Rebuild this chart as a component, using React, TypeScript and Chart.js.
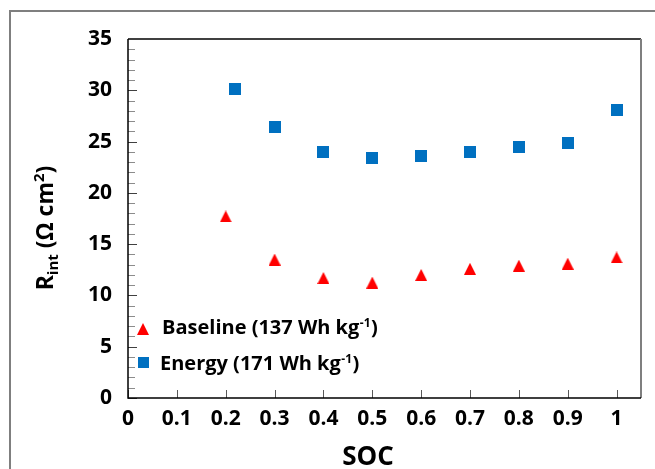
import React, { useEffect, useRef } from "react";
import { Chart, registerables } from "chart.js";

Chart.register(...registerables);

// ---- data ----
const baselineSOC = [0.2, 0.3, 0.4, 0.5, 0.6, 0.7, 0.8, 0.9, 1.0];
const baselineR = [17.7, 13.5, 11.7, 11.25, 12.0, 12.6, 12.9, 13.1, 13.7];
const energySOC = [0.22, 0.3, 0.4, 0.5, 0.6, 0.7, 0.8, 0.9, 1.0];
const energyR = [30.1, 26.4, 24.0, 23.4, 23.6, 24.0, 24.5, 24.9, 28.1];
const xTickValues = [0, 0.1, 0.2, 0.3, 0.4, 0.5, 0.6, 0.7, 0.8, 0.9, 1];
const yTickValues = [0, 5, 10, 15, 20, 25, 30, 35];
const seriesNames = ["Baseline (137 Wh kg", "Energy (171 Wh kg"];
const seriesSup = ["-1", "-1"];
const xTitle = "SOC";

const FONT = "'Open Sans', sans-serif";
const RED = "#FF0000";
const BLUE = "#0070C0";

function makeTriangle(size: number, color: string) {
  const c = document.createElement("canvas");
  c.width = size;
  c.height = size;
  const g = c.getContext("2d")!;
  g.fillStyle = color;
  g.beginPath();
  g.moveTo(size / 2, 0);
  g.lineTo(size, size);
  g.lineTo(0, size);
  g.closePath();
  g.fill();
  return c;
}

function makeSquare(size: number, color: string) {
  const c = document.createElement("canvas");
  c.width = size;
  c.height = size;
  const g = c.getContext("2d")!;
  g.fillStyle = color;
  g.fillRect(0, 0, size, size);
  return c;
}

const decorPlugin = {
  id: "decor",
  beforeDraw(chart: any) {
    const ctx = chart.ctx;
    ctx.save();
    ctx.fillStyle = "#ffffff";
    ctx.fillRect(0, 0, chart.width, chart.height);
    ctx.strokeStyle = "#7f7f7f";
    ctx.lineWidth = 2;
    ctx.beginPath();
    ctx.moveTo(10, chart.height + 5);
    ctx.lineTo(10, 11);
    ctx.lineTo(chart.width + 5, 11);
    ctx.stroke();
    ctx.restore();
  },
  afterDraw(chart: any) {
    const ctx = chart.ctx;
    const a = chart.chartArea;
    const xs = chart.scales.x;
    const ys = chart.scales.y;
    ctx.save();
    ctx.lineWidth = 1.5;
    ctx.strokeStyle = "#000000";
    ctx.beginPath();
    ctx.moveTo(a.left, a.top);
    ctx.lineTo(a.right, a.top);
    ctx.stroke();
    ctx.strokeStyle = "#7f7f7f";
    ctx.lineWidth = 2;
    ctx.beginPath();
    ctx.moveTo(a.right, a.top);
    ctx.lineTo(a.right, a.bottom);
    ctx.stroke();

    for (let v = ys.min; v <= ys.max; v += 1) {
      const py = Math.round(ys.getPixelForValue(v)) + 0.5;
      const major = v % 5 === 0;
      ctx.strokeStyle = major ? "#404040" : "#8c8c8c";
      ctx.lineWidth = 1;
      ctx.beginPath();
      ctx.moveTo(a.left, py);
      ctx.lineTo(a.left + (major ? 9 : 7), py);
      ctx.stroke();
    }
    xTickValues.forEach((v) => {
      const px = Math.round(xs.getPixelForValue(v)) + 0.5;
      ctx.strokeStyle = "#595959";
      ctx.lineWidth = 1;
      ctx.beginPath();
      ctx.moveTo(px, a.bottom);
      ctx.lineTo(px, a.bottom - 8);
      ctx.stroke();
    });

    ctx.strokeStyle = "#000000";
    ctx.lineWidth = 1.5;
    ctx.beginPath();
    ctx.moveTo(a.left, a.top);
    ctx.lineTo(a.left, a.bottom);
    ctx.lineTo(a.right, a.bottom);
    ctx.stroke();

    // legend
    const markers = [makeTriangle(12, RED), makeSquare(11, BLUE)];
    const markerY = [329, 362.5];
    const textBase = [333.5, 370];
    const textX = [162, 160];
    markers.forEach((m, i) => {
      ctx.drawImage(m, Math.round(143 - m.width / 2), Math.round(markerY[i] - m.height / 2));
      ctx.fillStyle = "#000000";
      ctx.textBaseline = "alphabetic";
      ctx.textAlign = "left";
      ctx.font = `bold 20px ${FONT}`;
      let x = textX[i];
      ctx.fillText(seriesNames[i], x, textBase[i]);
      x += ctx.measureText(seriesNames[i]).width;
      ctx.font = `bold 12px ${FONT}`;
      ctx.fillText(seriesSup[i], x + 0.5, textBase[i] - 7);
      x += ctx.measureText(seriesSup[i]).width + 1;
      ctx.font = `bold 20px ${FONT}`;
      ctx.fillText(")", x, textBase[i]);
    });

    // x title
    ctx.fillStyle = "#000000";
    ctx.font = `bold 26px ${FONT}`;
    ctx.textAlign = "center";
    ctx.textBaseline = "alphabetic";
    ctx.fillText(xTitle, 368, 465);

    // y title, rotated
    const parts = [
      { t: "R", size: 23, dy: 0 },
      { t: "int", size: 15, dy: 5 },
      { t: " (Ω cm", size: 23, dy: 0 },
      { t: "2", size: 15, dy: -9 },
      { t: ")", size: 23, dy: 0 },
    ];
    let total = 0;
    parts.forEach((p) => {
      ctx.font = `bold ${p.size}px ${FONT}`;
      total += ctx.measureText(p.t).width;
    });
    ctx.translate(53, 228);
    ctx.rotate(-Math.PI / 2);
    ctx.textAlign = "left";
    let cx = -total / 2;
    parts.forEach((p) => {
      ctx.font = `bold ${p.size}px ${FONT}`;
      ctx.fillText(p.t, cx, p.dy);
      cx += ctx.measureText(p.t).width;
    });
    ctx.restore();
  },
};

export default function App() {
  const ref = useRef<HTMLCanvasElement | null>(null);
  useEffect(() => {
    if (!ref.current) return;
    const chart = new Chart(ref.current, {
      type: "scatter",
      data: {
        datasets: [
          {
            label: seriesNames[0],
            data: baselineSOC.map((x, i) => ({ x, y: baselineR[i] })),
            pointStyle: makeTriangle(12, RED),
            pointRadius: 6,
            backgroundColor: RED,
            borderColor: RED,
            borderWidth: 0,
          },
          {
            label: seriesNames[1],
            data: energySOC.map((x, i) => ({ x, y: energyR[i] })),
            pointStyle: makeSquare(12, BLUE),
            pointRadius: 6,
            backgroundColor: BLUE,
            borderColor: BLUE,
            borderWidth: 0,
          },
        ],
      },
      options: {
        responsive: false,
        animation: false,
        events: [],
        layout: { padding: { left: 0, top: 39, right: 14, bottom: 0 } },
        plugins: { legend: { display: false }, tooltip: { enabled: false } },
        scales: {
          x: {
            type: "linear",
            min: 0,
            max: 1.05,
            afterFit: (s: any) => { s.height = 71; },
            afterBuildTicks: (s: any) => { s.ticks = xTickValues.map((v) => ({ value: v })); },
            grid: { display: false, drawTicks: false },
            border: { display: false },
            ticks: {
              color: "#000000",
              font: { family: FONT, size: 21, weight: "bold" },
              padding: 8,
              maxRotation: 0,
              autoSkip: false,
              callback: (v: any) => String(Math.round(Number(v) * 10) / 10),
            },
          },
          y: {
            type: "linear",
            min: 0,
            max: 35,
            afterFit: (s: any) => { s.width = 128; },
            afterBuildTicks: (s: any) => { s.ticks = yTickValues.map((v) => ({ value: v })); },
            grid: { display: false, drawTicks: false },
            border: { display: false },
            ticks: {
              color: "#000000",
              font: { family: FONT, size: 21, weight: "bold" },
              padding: 16,
              autoSkip: false,
            },
          },
        },
      },
      plugins: [decorPlugin],
    });
    return () => chart.destroy();
  }, []);
  return (
    <div style={{ position: "fixed", left: 0, top: 0, width: 655, height: 469 }}>
      <canvas ref={ref} width={655} height={469} style={{ display: "block", width: 655, height: 469 }} />
    </div>
  );
}
